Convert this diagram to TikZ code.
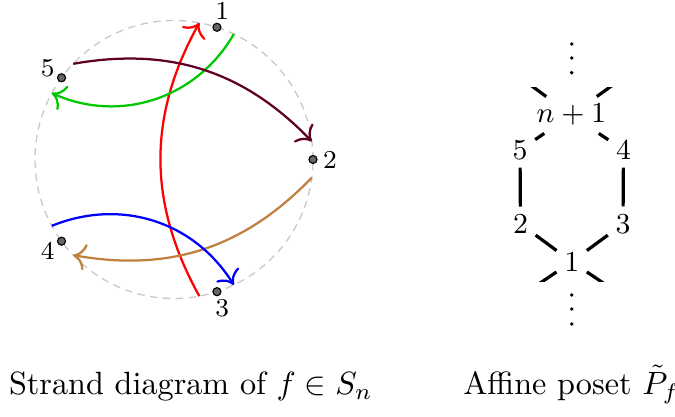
\documentclass[tikz,border=0pt]{standalone}
\usetikzlibrary{calc,arrows.meta}
\definecolor{strandgreen}{RGB}{0,200,0}
\definecolor{strandmaroon}{RGB}{95,0,38}
\definecolor{strandbrown}{RGB}{191,128,64}
\definecolor{circlegray}{RGB}{200,200,200}
\begin{document}
\begin{tikzpicture}[x=0.3106pt,y=0.3106pt,
  ptdot/.style={circle,draw=black,fill=black!60,line width=0.35pt,inner sep=0pt,minimum size=2.5pt},
  ptlabel/.style={inner sep=0pt,font=\footnotesize},
  strand/.style={line width=0.7pt,-{To[scale=1.25]}},
  posetnode/.style={font=\small,inner sep=2.2pt},
  posetedge/.style={line width=1pt},
  vdot/.style={circle,fill=black,inner sep=0pt,minimum size=1.2pt},
  caption/.style={anchor=base,inner sep=0pt}]
\useasboundingbox (0,0) rectangle (675,417);
% ---------- strand diagram ----------
\coordinate (c) at (174,257.5);
\draw[circlegray,dash pattern=on 2.3pt off 1.7pt] (c) circle (139);
\foreach \i/\a in {1/72,2/0,3/-72,4/-144,5/144}{
  \node[ptdot] (p\i) at ($(c)+(\a:139)$) {};
  \node[ptlabel] (l\i) at ($(c)+(\a:156)$) {\i};
  \coordinate (s\i) at ($(c)+(\a-7.5:139)$);
  \coordinate (e\i) at ($(c)+(\a+7.5:139)$);
}
\draw[strand,red] (s3) to[bend left=29] (e1);
\draw[strand,strandgreen] (s1) to[bend left=42] (e5);
\draw[strand,strandmaroon] (s5) to[bend left=28] (e2);
\draw[strand,strandbrown] (s2) to[bend left=28] (e4);
\draw[strand,blue] (s4) to[bend left=40] (e3);
% ---------- affine poset ----------
\node[posetnode] (np1) at (571.3,302) {$n+1$};
\node[posetnode] (q5) at (520,267) {5};
\node[posetnode] (q4) at (623.5,267) {4};
\node[posetnode] (q2) at (520.5,193) {2};
\node[posetnode] (q3) at (623,193) {3};
\node[posetnode] (q1) at (571.7,155.3) {1};
\coordinate (ul) at (520,339.7);
\coordinate (ur) at (623.5,339.7);
\coordinate (dl) at (520,120.3);
\coordinate (dr) at (623.5,120.3);
\draw[posetedge] (q5) -- (np1);
\draw[posetedge] (q4) -- (np1);
\draw[posetedge] (q5) -- (q2);
\draw[posetedge] (q4) -- (q3);
\draw[posetedge] (q2) -- (q1);
\draw[posetedge] (q3) -- (q1);
\begin{scope}
  \clip (480,135.3) rectangle (660,329);
  \draw[posetedge] (np1) -- (ul);
  \draw[posetedge] (np1) -- (ur);
  \draw[posetedge] (q1) -- (dl);
  \draw[posetedge] (q1) -- (dr);
\end{scope}
\foreach \k/\y in {1/373,2/359,3/344.3}{\node[vdot] (t\k) at (571.7,\y) {};}
\foreach \k/\y in {1/122,2/108,3/93}{\node[vdot] (b\k) at (571.7,\y) {};}
% ---------- captions ----------
\node[caption] (cap1) at (190.8,22.7) {Strand diagram of $f\in S_n$};
\node[caption] (cap2) at (571.5,22.7) {Affine poset $\tilde{P}_f$};
\end{tikzpicture}
\end{document}
